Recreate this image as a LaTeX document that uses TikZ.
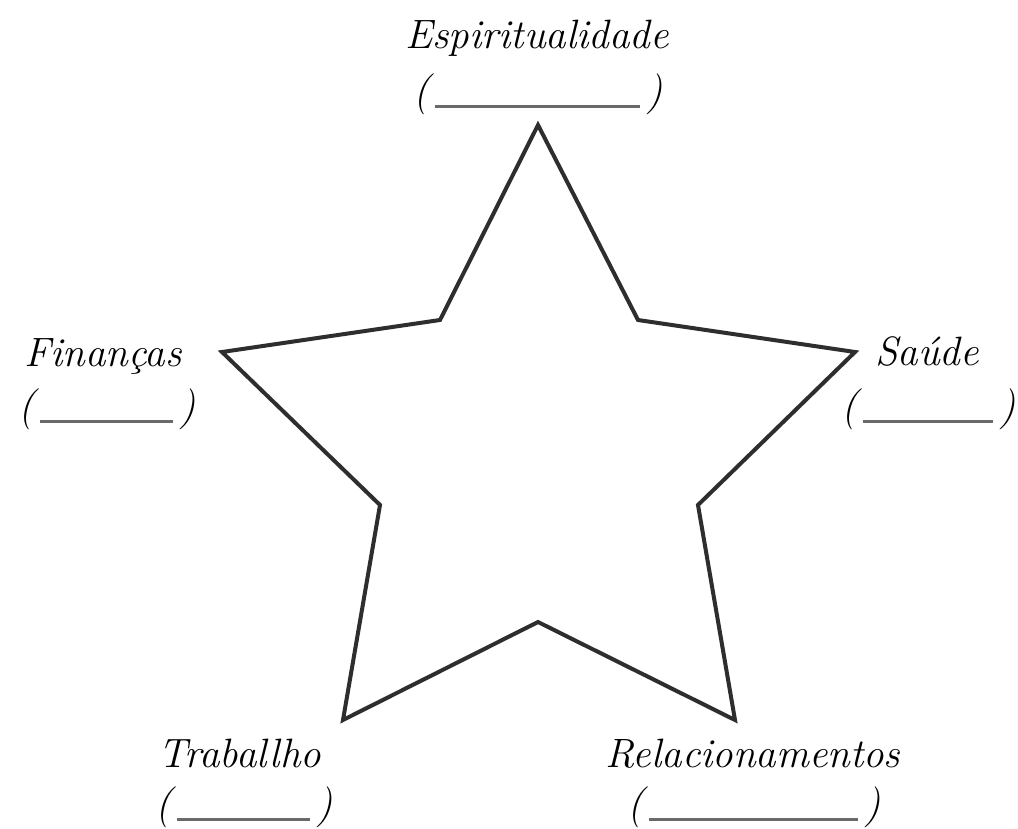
\documentclass[tikz,border=0pt]{standalone}
\usepackage{xcolor}
\definecolor{starc}{HTML}{2E2E2E}
\definecolor{blankc}{HTML}{6A6A6A}
\tikzset{
  lbl/.style={font=\fontsize{41}{45}\selectfont\itshape, text=black, inner sep=0pt, anchor=base},
  starline/.style={draw=starc, line width=4pt, line join=miter},
  blank/.style={draw=blankc, line width=3pt}
}
\begin{document}
\begin{tikzpicture}[x=1pt,y=-1pt]
\useasboundingbox (0,0) rectangle (1018,828);
% star
\coordinate (p1) at (538,125);
\coordinate (p2) at (638,320);
\coordinate (p3) at (855,352);
\coordinate (p4) at (698,505);
\coordinate (p5) at (735,720);
\coordinate (p6) at (538,622);
\coordinate (p7) at (343,720);
\coordinate (p8) at (380,505);
\coordinate (p9) at (222,352);
\coordinate (p10) at (440,320);
\draw[starline] (p1) -- (p2) -- (p3) -- (p4) -- (p5) -- (p6) -- (p7) -- (p8) -- (p9) -- (p10) -- cycle;
% labels
\node[lbl] (espt) at (537,48) {Espiritualidade};
\node[lbl] (espl) at (422,104) {(};
\node[lbl] (espr) at (655,104) {)};
\draw[blank] ([xshift=5pt,yshift=-2pt]espl.base east) -- ([xshift=-7pt,yshift=-2pt]espr.base west);

\node[lbl] (fint) at (103,366) {Finanças};
\node[lbl] (finl) at (27,419) {(};
\node[lbl] (finr) at (188,419) {)};
\draw[blank] ([xshift=5pt,yshift=-2pt]finl.base east) -- ([xshift=-7pt,yshift=-2pt]finr.base west);

\node[lbl] (saut) at (927,365) {Saúde};
\node[lbl] (saul) at (850,419) {(};
\node[lbl] (saur) at (1008,419) {)};
\draw[blank] ([xshift=5pt,yshift=-2pt]saul.base east) -- ([xshift=-7pt,yshift=-2pt]saur.base west);

\node[lbl] (trat) at (240,767) {Traballho};
\node[lbl] (tral) at (164,817) {(};
\node[lbl] (trar) at (325,817) {)};
\draw[blank] ([xshift=5pt,yshift=-2pt]tral.base east) -- ([xshift=-7pt,yshift=-2pt]trar.base west);

\node[lbl] (relt) at (753,767) {Relacionamentos};
\node[lbl] (rell) at (636,817) {(};
\node[lbl] (relr) at (873,817) {)};
\draw[blank] ([xshift=5pt,yshift=-2pt]rell.base east) -- ([xshift=-7pt,yshift=-2pt]relr.base west);
\end{tikzpicture}
\end{document}
